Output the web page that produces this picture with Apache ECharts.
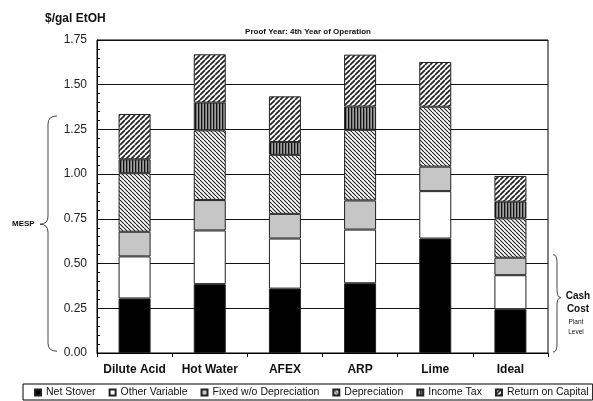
<!DOCTYPE html>
<html>
<head>
<meta charset="utf-8">
<script src="https://cdn.jsdelivr.net/npm/echarts@6/dist/echarts.min.js"></script>
<style>html,body{margin:0;padding:0;background:#fff}#c{width:593px;height:401px}</style>
</head>
<body>
<div id="c"></div>
<script>
// ---- data ----
var categories = ['Dilute Acid', 'Hot Water', 'AFEX', 'ARP', 'Lime', 'Ideal'];
var seriesNames = ['Net Stover', 'Other Variable', 'Fixed w/o Depreciation', 'Depreciation', 'Income Tax', 'Return on Capital'];
var netStover       = [0.305, 0.385, 0.360, 0.390, 0.640, 0.245];
var otherVariable   = [0.235, 0.300, 0.280, 0.300, 0.265, 0.190];
var fixedCost       = [0.138, 0.170, 0.138, 0.163, 0.137, 0.098];
var depreciation    = [0.327, 0.390, 0.330, 0.395, 0.335, 0.220];
var incomeTax       = [0.078, 0.155, 0.072, 0.130, 0.000, 0.093];
var returnOnCapital = [0.253, 0.270, 0.255, 0.290, 0.250, 0.144];
var yTicks = [0, 0.25, 0.5, 0.75, 1.0, 1.25, 1.5, 1.75];

// ---- patterns ----
function hatch(dir, size, lw, bg, fg) {
  var c = document.createElement('canvas');
  c.width = size; c.height = size;
  var g = c.getContext('2d');
  g.fillStyle = bg; g.fillRect(0, 0, size, size);
  g.strokeStyle = fg; g.lineWidth = lw;
  g.beginPath();
  for (var k = -1; k <= 1; k++) {
    if (dir === '\\') { g.moveTo(k * size, 0); g.lineTo(k * size + size, size); }
    else { g.moveTo(k * size, size); g.lineTo(k * size + size, 0); }
  }
  g.stroke();
  return c;
}
function vstripe() {
  var c = document.createElement('canvas');
  c.width = 3; c.height = 3;
  var g = c.getContext('2d');
  g.fillStyle = '#a0a0a0'; g.fillRect(0, 0, 3, 3);
  g.fillStyle = '#111'; g.fillRect(0, 0, 1.3, 3);
  return c;
}
var fills = [
  '#000000',
  '#ffffff',
  '#c6c6c6',
  { image: hatch('\\', 4, 1.1, '#ffffff', '#222'), repeat: 'repeat' },
  { image: vstripe(), repeat: 'repeat' },
  { image: hatch('/', 5, 1.7, '#ffffff', '#222'), repeat: 'repeat' }
];
var allData = [netStover, otherVariable, fixedCost, depreciation, incomeTax, returnOnCapital];

var chart = echarts.init(document.getElementById('c'), null, { renderer: 'canvas' });
var FONT = 'Arial, "Liberation Sans", Helvetica, sans-serif';
var series = seriesNames.map(function (n, i) {
  return {
    name: n, type: 'bar', stack: 'total', barWidth: 32,
    itemStyle: { color: fills[i], borderColor: '#222', borderWidth: 1 },
    data: allData[i].map(function (v) { return v === 0 ? '-' : v; })
  };
});

var GL = 97, GR = 45, GT = 40, GB = 48;
chart.setOption({
  animation: false,
  backgroundColor: '#fff',
  grid: { left: GL, right: GR, top: GT, bottom: GB, show: true, borderColor: '#000', borderWidth: 1, backgroundColor: 'transparent' },
  legend: {
    data: seriesNames, left: 23, bottom: 1, orient: 'horizontal',
    padding: [3, 4, 2, 11], itemGap: 13, itemWidth: 6, itemHeight: 6, icon: 'rect',
    borderColor: '#000', borderWidth: 1,
    textStyle: { fontFamily: FONT, fontSize: 10.5, color: '#111' }
  },
  xAxis: {
    type: 'category', data: categories,
    axisLine: { lineStyle: { color: '#000', width: 1 } },
    axisTick: { show: true, interval: 0, length: 4, lineStyle: { color: '#000' } },
    axisLabel: { interval: 0, fontFamily: FONT, fontSize: 12, fontWeight: 'bold', color: '#111', margin: 11 }
  },
  yAxis: {
    type: 'value', min: yTicks[0], max: yTicks[yTicks.length - 1], interval: 0.25,
    axisLine: { show: true, lineStyle: { color: '#000', width: 1 } },
    axisTick: { show: true, inside: true, length: 4, lineStyle: { color: '#000' } },
    minorTick: { show: true, splitNumber: 5, length: 3, lineStyle: { color: '#000' } },
    splitLine: { show: true, lineStyle: { color: '#111', width: 1 } },
    axisLabel: { fontFamily: FONT, fontSize: 12, color: '#222', margin: 10, formatter: function (v) { return v.toFixed(2); } }
  },
  series: series
});

function yPx(v) { return chart.convertToPixel({ gridIndex: 0 }, [0, v])[1]; }
var LS = { stroke: '#444', lineWidth: 1, fill: 'none' };
function brace(xEnd, xMid, xTip, y1, ym, y2) {
  var r = 8;
  return [
    { type: 'bezierCurve', silent: true, shape: { x1: xEnd, y1: y1, x2: xMid, y2: y1 + r, cpx1: xMid, cpy1: y1 }, style: LS },
    { type: 'line', silent: true, shape: { x1: xMid, y1: y1 + r, x2: xMid, y2: ym - r }, style: LS },
    { type: 'bezierCurve', silent: true, shape: { x1: xMid, y1: ym - r, x2: xTip, y2: ym, cpx1: xMid, cpy1: ym }, style: LS },
    { type: 'bezierCurve', silent: true, shape: { x1: xTip, y1: ym, x2: xMid, y2: ym + r, cpx1: xMid, cpy1: ym }, style: LS },
    { type: 'line', silent: true, shape: { x1: xMid, y1: ym + r, x2: xMid, y2: y2 - r }, style: LS },
    { type: 'bezierCurve', silent: true, shape: { x1: xMid, y1: y2 - r, x2: xEnd, y2: y2, cpx1: xMid, cpy1: y2 }, style: LS }
  ];
}
function txt(x, y, s, font, align) {
  return { type: 'text', x: x, y: y, silent: true,
    style: { text: s, font: font, fill: '#111', textAlign: align || 'left', textVerticalAlign: 'middle', align: align || 'left', verticalAlign: 'middle' } };
}
var mTop = yPx(1.325), mBot = yPx(0.01), mMid = yPx(0.72);
var cTop = yPx(0.55), cBot = yPx(0.005), cMid = yPx(0.31);
var els = [
  txt(45, 19, '$/gal EtOH', 'bold 12px ' + FONT),
  txt(308, 32, 'Proof Year: 4th Year of Operation', 'bold 8px ' + FONT, 'center'),
  txt(12, mMid, 'MESP', 'bold 8px ' + FONT),
  txt(578, 296, 'Cash', 'bold 10px ' + FONT, 'center'),
  txt(578, 309, 'Cost', 'bold 10px ' + FONT, 'center'),
  txt(576, 322, 'Plant', '6.5px ' + FONT, 'center'),
  txt(576, 332, 'Level', '6.5px ' + FONT, 'center')
].concat(brace(57, 48, 40, mTop, mMid, mBot)).concat(brace(553, 557, 561, cTop, cMid, cBot));
chart.setOption({ graphic: els });
</script>
</body>
</html>
